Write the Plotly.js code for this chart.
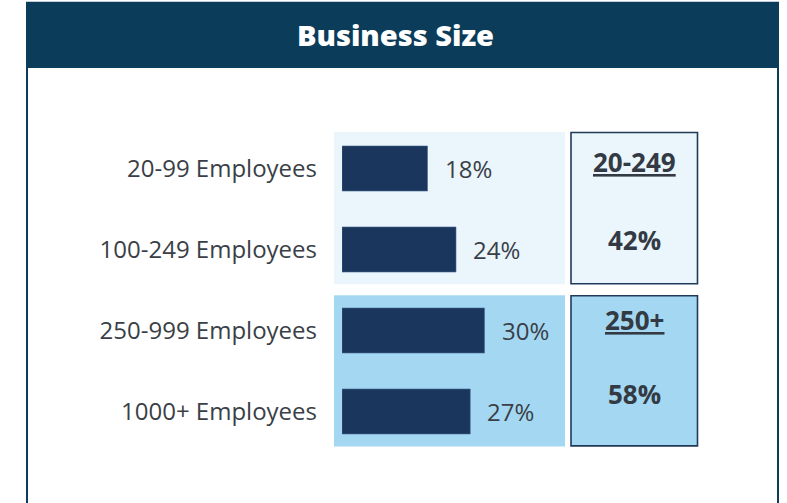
<!DOCTYPE html>
<html>
<head>
<meta charset="utf-8">
<script src="https://cdn.plot.ly/plotly-3.0.1.min.js"></script>
<style>html,body{margin:0;padding:0;background:#fff;}#chart{width:787px;height:503px;}</style>
</head>
<body>
<div id="chart"></div>
<script>
// ---- data ----
const categories = ["20-99 Employees", "100-249 Employees", "250-999 Employees", "1000+ Employees"];
const shares = [18, 24, 30, 27];
const valueLabels = ["18%", "24%", "30%", "27%"];
const groupNames = ["20-249", "250+"];
const groupTotals = ["42%", "58%"];
const chartTitle = "Business Size";

// ---- layout geometry (pixels) ----
const L = 342, T = 128, W = 223, H = 323.6;
const pxPerUnit = 4.75;
const px = x => (x - L) / W;
const py = y => (T + H - y) / H;

const textColor = "#3a3f47";
const navy = "#1a365d";
const header = "#0b3c5a";

const trace = {
  type: "bar",
  orientation: "h",
  x: shares,
  y: categories,
  width: 0.556,
  marker: { color: navy, line: { color: "#4a6a90", width: 0.6 } },
  hoverinfo: "skip"
};

const annotations = [];
shares.forEach((v, i) => {
  annotations.push({
    x: v, y: categories[i], xref: "x", yref: "y",
    text: valueLabels[i], showarrow: false,
    xanchor: "left", yanchor: "middle", xshift: 15, yshift: 0,
    font: { family: "Open Sans", size: 24, color: textColor }
  });
});

const boxes = [
  { y0: 132, y1: 284, fill: "#eaf5fc", nameY: 162, totY: 240 },
  { y0: 295, y1: 446, fill: "#a4d8f2", nameY: 319.5, totY: 393.5 }
];
const shapes = [
  // header band
  { type: "rect", xref: "paper", yref: "paper", x0: px(26), x1: px(779), y0: py(2), y1: py(68),
    fillcolor: header, line: { width: 0 }, layer: "below" },
  // card side borders
  { type: "line", xref: "paper", yref: "paper", x0: px(27), x1: px(27), y0: py(68), y1: py(503),
    line: { color: header, width: 2 } },
  { type: "line", xref: "paper", yref: "paper", x0: px(778), x1: px(778), y0: py(68), y1: py(503),
    line: { color: header, width: 2 } }
];
boxes.forEach((b, g) => {
  shapes.push({ type: "rect", xref: "paper", yref: "paper", x0: px(334), x1: px(565),
    y0: py(b.y0), y1: py(b.y1), fillcolor: b.fill, line: { width: 0 }, layer: "below" });
  shapes.push({ type: "rect", xref: "paper", yref: "paper", x0: px(571), x1: px(697.5),
    y0: py(b.y0 + 0.5), y1: py(b.y1 - 0.5), fillcolor: b.fill, line: { color: "#203a5a", width: 1.6 }, layer: "below" });
  annotations.push({
    x: px(634), y: py(b.nameY), xref: "paper", yref: "paper", showarrow: false,
    xanchor: "center", yanchor: "middle",
    text: "<b><u>" + groupNames[g] + "</u></b>",
    font: { family: "Open Sans", size: 26, color: "#333a44" }
  });
  annotations.push({
    x: px(634), y: py(b.totY), xref: "paper", yref: "paper", showarrow: false,
    xanchor: "center", yanchor: "middle",
    text: "<b>" + groupTotals[g] + "</b>",
    font: { family: "Open Sans", size: 26, color: "#333a44" }
  });
});

const layout = {
  width: 787, height: 503,
  margin: { l: L, r: 787 - L - W, t: T, b: 503 - T - H, pad: 0 },
  paper_bgcolor: "#ffffff",
  plot_bgcolor: "rgba(0,0,0,0)",
  showlegend: false,
  title: {
    text: chartTitle,
    x: 395.5 / 787, xanchor: "center",
    y: 1 - 36 / 503, yanchor: "middle",
    font: { family: "Open Sans", size: 29, color: "#ffffff", weight: 800 }
  },
  xaxis: { range: [0, W / pxPerUnit], visible: false, fixedrange: true },
  yaxis: {
    type: "category", range: [3.5, -0.5],
    showgrid: false, zeroline: false, showline: false, ticks: "",
    ticklabelstandoff: 24,
    tickfont: { family: "Open Sans", size: 24, color: textColor },
    fixedrange: true
  },
  shapes: shapes,
  annotations: annotations
};

Plotly.newPlot("chart", [trace], layout, { displayModeBar: false, staticPlot: true });
</script>
</body>
</html>
